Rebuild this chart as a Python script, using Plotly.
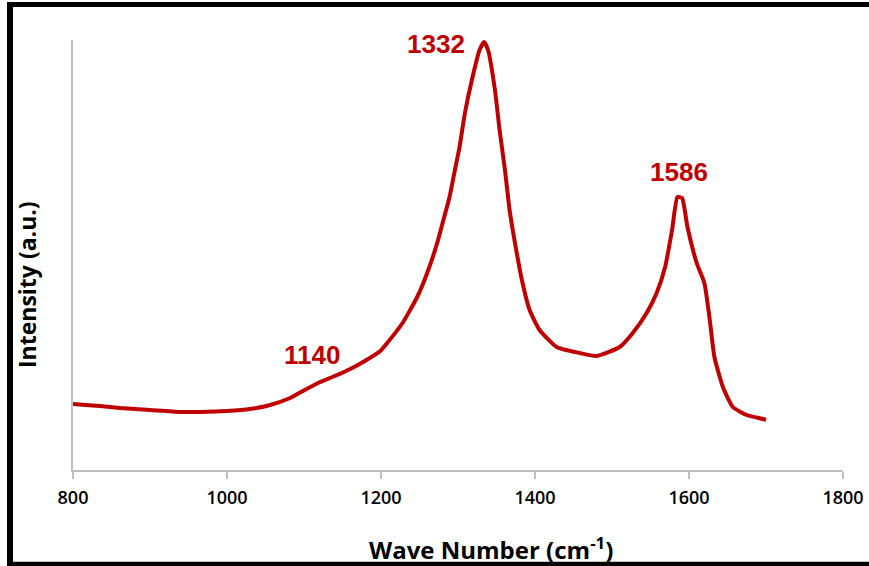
import plotly.graph_objects as go

# Raman spectrum (wavenumber cm^-1, intensity a.u.)
wavenumber = [800, 816, 835, 861, 900, 939, 965, 1000, 1030, 1056, 1082, 1101, 1121,
              1140, 1160, 1179, 1199, 1208, 1228, 1247, 1260, 1273, 1280, 1289, 1296,
              1302, 1309, 1318, 1328, 1334, 1339, 1348, 1354, 1361, 1367, 1374, 1383,
              1393, 1406, 1428, 1458, 1480, 1510, 1527, 1545, 1558, 1569, 1578, 1585,
              1591, 1598, 1610, 1620, 1627, 1633, 1644, 1657, 1675, 1696, 1700]
intensity = [66, 65, 64, 62, 60, 58, 58, 59, 61, 65, 72, 80, 88,
             94, 101, 109, 119, 127, 147, 173, 197, 227, 247, 273, 300,
             323, 357, 390, 420, 428, 420, 380, 340, 300, 260, 227, 190,
             160, 140, 123, 117, 114, 123, 137, 157, 177, 203, 240, 273,
             272, 243, 207, 187, 150, 113, 83, 63, 55, 51, 50]

peak_labels = ["1332", "1586", "1140"]
peak_label_x = [1272, 1587, 1110]
peak_label_y = [426, 298, 115]

x_ticks = [800, 1000, 1200, 1400, 1600, 1800]

RED = "#C00000"
GRID = "#BFBFBF"

fig = go.Figure()
fig.add_trace(go.Scatter(x=wavenumber, y=intensity, mode="lines",
                         line=dict(color=RED, width=4, shape="spline", smoothing=0.5),
                         hoverinfo="skip", showlegend=False))

for t, x, y in zip(peak_labels, peak_label_x, peak_label_y):
    fig.add_annotation(x=x, y=y, xref="x", yref="y", text=f"<b>{t}</b>", showarrow=False,
                       xanchor="center", yanchor="middle",
                       font=dict(family="Liberation Sans", size=26, color=RED))

L, R, T, B = 73, 26, 40, 96
W, H = 869, 566
pw, ph = W - L - R, H - T - B

def px(xp):
    return (xp - L) / pw

def py(yp):
    return (H - B - yp) / ph

# Axis titles
fig.add_annotation(x=px(491), y=py(548), xref="paper", yref="paper",
                   text="<b>Wave Number (cm<sup>-1</sup>)</b>", showarrow=False,
                   xanchor="center", yanchor="middle",
                   font=dict(family="Open Sans", size=24, color="black"))
fig.add_annotation(x=px(27), y=py(285), xref="paper", yref="paper",
                   text="<b>Intensity (a.u.)</b>", showarrow=False, textangle=-90,
                   xanchor="center", yanchor="middle",
                   font=dict(family="Open Sans", size=23, color="black"))

# Outer frame (left, top, bottom)
fig.add_shape(type="line", xref="paper", yref="paper", x0=px(10), x1=px(10), y0=py(2), y1=py(566),
              line=dict(color="black", width=6))
fig.add_shape(type="line", xref="paper", yref="paper", x0=px(7), x1=px(869), y0=py(4.5), y1=py(4.5),
              line=dict(color="black", width=5))
fig.add_shape(type="line", xref="paper", yref="paper", x0=px(7), x1=px(869), y0=py(564), y1=py(564),
              line=dict(color="black", width=4.5))

fig.update_layout(
    width=W, height=H, autosize=False,
    margin=dict(l=L, r=R, t=T, b=B, pad=0, autoexpand=False),
    paper_bgcolor="white", plot_bgcolor="white",
    xaxis=dict(range=[800, 1800], tickvals=x_ticks, ticktext=[str(v) for v in x_ticks],
               automargin=False,
               showgrid=False, zeroline=False, showline=True, linecolor=GRID, linewidth=1.5,
               ticks="outside", ticklen=7, tickcolor=GRID, tickwidth=1.5,
               ticklabelstandoff=4,
               tickfont=dict(family="Open Sans", size=18, color="black", weight=600),
               fixedrange=True),
    yaxis=dict(range=[0, 430], automargin=False, showgrid=False, zeroline=False, showline=True,
               linecolor=GRID, linewidth=1.5, showticklabels=False, ticks="", fixedrange=True),
)

fig.write_html(
    "out.html",
    config={"responsive": False, "displayModeBar": False},
    post_script="document.documentElement.style.overflow='hidden';document.body.style.overflow='hidden';document.body.style.margin='0';",
)
